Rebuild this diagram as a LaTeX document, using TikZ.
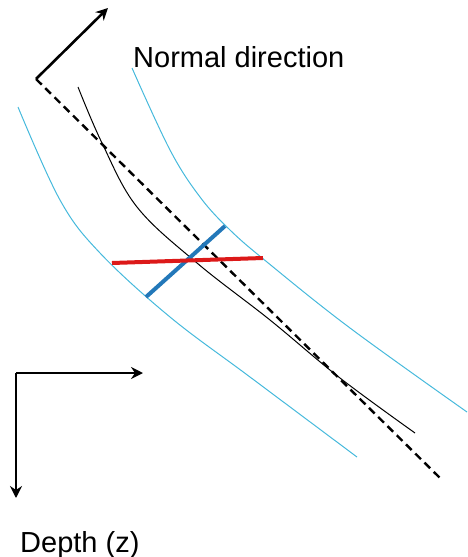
\documentclass[tikz,border=0pt]{standalone}
\usepackage{fontspec}
\setmainfont{Liberation Sans}
\usetikzlibrary{arrows.meta}
\definecolor{layercyan}{RGB}{70,185,220}
\definecolor{rayblue}{RGB}{35,120,185}
\definecolor{rayred}{RGB}{220,25,25}
\tikzset{
  axis/.style={-{Stealth[length=12pt,width=12pt,inset=4pt]}, line width=2.6pt},
  boundary/.style={layercyan, line width=1pt},
  interface/.style={black, line width=1pt},
  tangent/.style={black, line width=2.4pt, dash pattern=on 8pt off 5pt},
  seg/.style={line width=4pt},
  lbl/.style={inner sep=0pt, anchor=base west, font=\fontsize{29}{34}\selectfont}
}
\begin{document}
\begin{tikzpicture}[x=1pt, y=-1pt]
\useasboundingbox (0,0) rectangle (467,557);
% normal direction
\coordinate (o) at (36,79);
\coordinate (n) at (108,8);
\coordinate (t) at (440,478);
\draw[axis] (o) -- (n);
\node[lbl] (nlab) at (133,67) {Normal direction};
% tangent (dashed)
\draw[tangent] (o) -- (t);
% layer boundaries
\draw[boundary] plot[smooth, tension=0.6] coordinates {(18,107) (60,200) (100,253) (170,317) (250,377) (357,457)};
\draw[boundary] plot[smooth, tension=0.6] coordinates {(132,68) (170,150) (200,197) (230,230) (267,262) (350,328) (467,412)};
% curved interface
\draw[interface] plot[smooth, tension=0.6] coordinates {(78,87) (102,143) (137,207) (197,263) (270,320) (340,378) (415,433)};
% segments
\coordinate (b1) at (146,297);
\coordinate (b2) at (225,226);
\coordinate (r1) at (112,263);
\coordinate (r2) at (263,258);
\draw[seg, rayblue] (b1) -- (b2);
\draw[seg, rayred] (r1) -- (r2);
% axes
\coordinate (c) at (16,373);
\coordinate (cx) at (143,373);
\coordinate (cz) at (16,498);
\draw[axis] (c) -- (cx);
\draw[axis] (c) -- (cz);
\node[lbl] (zlab) at (20,552) {Depth (z)};
\end{tikzpicture}
\end{document}
